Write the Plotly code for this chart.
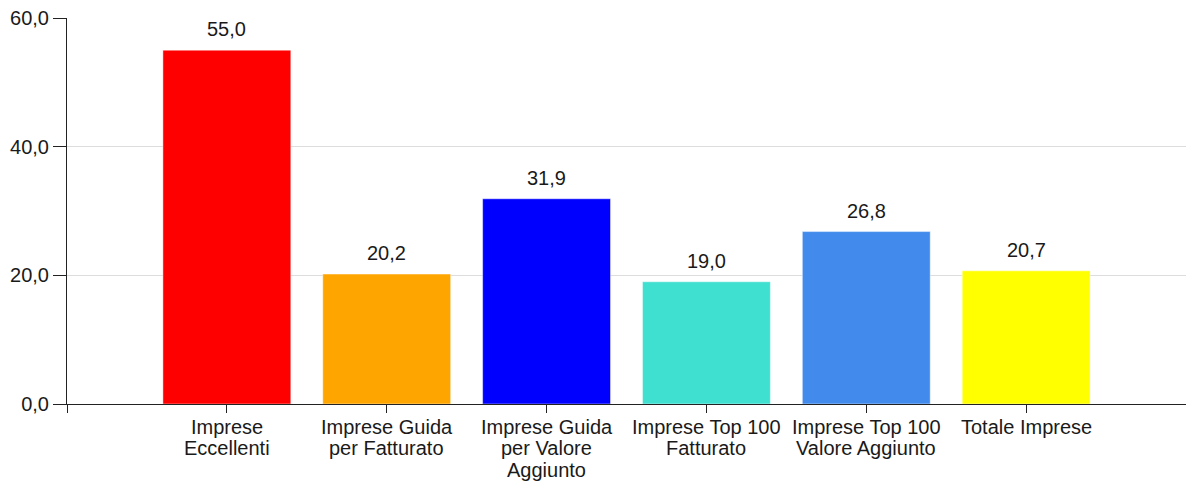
import plotly.graph_objects as go

categories = [
    "Imprese<br>Eccellenti",
    "Imprese Guida<br>per Fatturato",
    "Imprese Guida<br>per Valore<br>Aggiunto",
    "Imprese Top 100<br>Fatturato",
    "Imprese Top 100<br>Valore Aggiunto",
    "Totale Imprese",
]
values = [55.0, 20.2, 31.9, 19.0, 26.8, 20.7]
colors = ["#FF0000", "#FFA500", "#0000FF", "#40E0D0", "#428BEC", "#FFFF00"]
y_ticks = [0, 20, 40, 60]
y_ticktext = ["0,0", "20,0", "40,0", "60,0"]

FONT = "Liberation Sans, Arial, sans-serif"
TXT = "#1a1a1a"
FS = 20

xpos = list(range(len(categories)))

fig = go.Figure()
fig.add_trace(go.Bar(
    x=xpos, y=values, width=0.8,
    marker=dict(color=colors, line=dict(color="rgba(255,255,255,0.45)", width=1)),
    hoverinfo="skip",
))

# value labels above bars
for xi, v in zip(xpos, values):
    fig.add_annotation(
        x=xi, y=v, text=f"{v:.1f}".replace(".", ","),
        showarrow=False, yanchor="middle", yshift=21,
        font=dict(family=FONT, size=FS, color=TXT),
    )

# category labels (one annotation per line for tight line spacing)
line_offsets = [-22.5, -44, -65.5]
for xi, cat in zip(xpos, categories):
    for li, line in enumerate(cat.split("<br>")):
        fig.add_annotation(
            x=xi, xref="x", y=0, yref="paper", text=line,
            showarrow=False, yanchor="middle", xanchor="center",
            yshift=line_offsets[li],
            font=dict(family=FONT, size=FS, color=TXT),
        )

fig.update_layout(
    width=1186, height=482,
    margin=dict(l=67, r=0, t=18, b=78, autoexpand=False),
    paper_bgcolor="white", plot_bgcolor="white",
    showlegend=False,
    font=dict(family=FONT, size=FS, color=TXT),
    xaxis=dict(
        range=[-1, 6],
        tickmode="array",
        tickvals=[-1] + xpos,
        ticktext=[""] * (len(xpos) + 1),
        ticks="outside", ticklen=8, tickcolor="#222", tickwidth=1,
        showline=True, linecolor="#222", linewidth=1,
        showgrid=False, zeroline=False, automargin=False,
    ),
    yaxis=dict(
        range=[0, 60],
        tickmode="array",
        tickvals=y_ticks, ticktext=y_ticktext,
        ticks="outside", ticklen=13, tickcolor="#222", tickwidth=1,
        showline=True, linecolor="#222", linewidth=1,
        showgrid=True, gridcolor="#dddddd", gridwidth=1,
        zeroline=False, automargin=False,
        tickfont=dict(family=FONT, size=FS, color=TXT),
    ),
)

fig.write_html(
    "out.html",
    config={"displayModeBar": False, "staticPlot": True},
    post_script="document.body.style.margin='0';document.body.style.overflow='hidden';",
)
